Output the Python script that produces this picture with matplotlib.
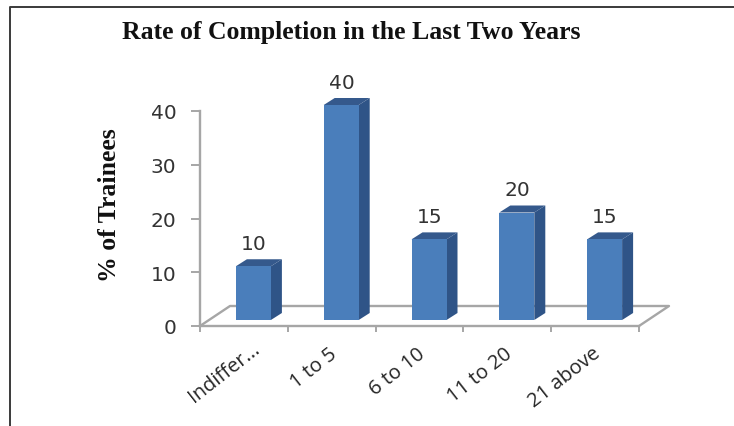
import matplotlib
matplotlib.use("Agg")
import matplotlib.pyplot as plt
from matplotlib.patches import Polygon

categories = ["Indiffer...", "1 to 5", "6 to 10", "11 to 20", "21 above"]
values = [10, 40, 15, 20, 15]
y_ticks = [0, 10, 20, 30, 40]

W, H = 734, 427
fig = plt.figure(figsize=(W / 100, H / 100), dpi=100, facecolor="white")

# page frame: left and top rules only
fig.add_artist(plt.Line2D([10 / W, 10 / W, 1], [0, 1 - 8 / H, 1 - 8 / H],
                          color="#3a3a3a", lw=1.4))

# axes = front plane of the 3D box
L, R, B, T = 200, 639, 327, 112
ax = fig.add_axes([L / W, 1 - B / H, (R - L) / W, (B - T) / H])
ax.set_xlim(0, 5)
ax.set_ylim(0, 40)
ax.patch.set_alpha(0)
for s in ["top", "right"]:
    ax.spines[s].set_visible(False)
grey = "#a6a6a6"
for s in ["left", "bottom"]:
    ax.spines[s].set_color(grey)
    ax.spines[s].set_linewidth(1.7)

px = 5 / (R - L)
py = 40 / (B - T)

# floor
ddx, ddy = 30 * px, 20 * py
ax.plot([0, ddx, 5 + ddx, 5], [0, ddy, ddy, 0], color=grey, lw=1.7, clip_on=False, zorder=1)

# bars
bw = 35 * px
off_x, off_y = 9.5 * px, 6 * py
dx, dy = 11 * px, 7 * py
for i, v in enumerate(values):
    x0 = i + 0.5 + off_x - bw / 2
    x1 = x0 + bw
    y0, y1 = off_y, off_y + v
    ax.add_patch(Polygon([(x1, y0), (x1 + dx, y0 + dy), (x1 + dx, y1 + dy), (x1, y1)],
                         fc="#2f5487", ec="none", clip_on=False, zorder=3))
    ax.add_patch(Polygon([(x0, y1), (x1, y1), (x1 + dx, y1 + dy), (x0 + dx, y1 + dy)],
                         fc="#35598c", ec="none", clip_on=False, zorder=3))
    ax.add_patch(Polygon([(x0, y0), (x1, y0), (x1, y1), (x0, y1)],
                         fc="#4a7ebb", ec="none", clip_on=False, zorder=4))
    ax.text((x0 + x1) / 2 + 0.5 * px, y1 + dy + 6 * py, str(v), ha="center", va="bottom",
            fontsize=14.5, color="#333333", family="DejaVu Sans", clip_on=False)

ax.set_xticks(range(6))
ax.set_xticklabels([])
ax.set_yticks(y_ticks)
ax.tick_params(axis="y", length=6.5, width=1.4, color=grey, labelsize=14.5, labelcolor="#333333", pad=10.5)
ax.tick_params(axis="x", length=4, width=1.4, color=grey, direction="out")

# end of each rotated label relative to its category centre, in pixels
label_dx = [14, 3, 3, 3, 3]
label_dy = [-20, -25, -25, -25, -25]
for i, c in enumerate(categories):
    ax.annotate(c, xy=(i + 0.5, 0), xycoords="data",
                xytext=(label_dx[i] * 0.72, label_dy[i] * 0.72), textcoords="offset points",
                rotation=38, rotation_mode="anchor", ha="right", va="center",
                fontsize=14.5, color="#262626", family="Open Sans", annotation_clip=False)

fig.text(351 / W, 1 - 32 / H, "Rate of Completion in the Last Two Years", ha="center", va="center",
         fontsize=18.5, fontweight="bold", family="Liberation Serif", color="#111111")
fig.text(110 / W, 1 - 205 / H, "% of Trainees", rotation=90, ha="center", va="center",
         fontsize=18.5, fontweight="bold", family="Liberation Serif", color="#111111")

fig.savefig("out.png", dpi=100)
